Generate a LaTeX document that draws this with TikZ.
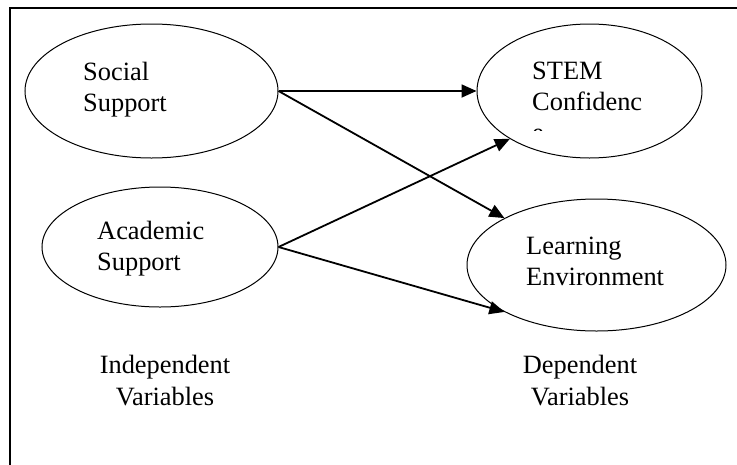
\documentclass[tikz,border=0pt]{standalone}
\usepackage{fontspec}
\setmainfont{Liberation Serif}
\usetikzlibrary{shapes.geometric,arrows.meta}
\begin{document}
\begin{tikzpicture}[x=1pt,y=-1pt,
  varell/.style={draw,ellipse,inner sep=0pt,line width=1pt},
  lbl/.style={anchor=base west,inner sep=0pt,align=left,font=\fontsize{26.4}{31}\selectfont},
  clbl/.style={anchor=base,inner sep=0pt,align=center,font=\fontsize{26.4}{31.5}\selectfont},
  conn/.style={line width=1.8pt,-{Triangle[length=15pt,width=13pt]},shorten >=0pt}]
\useasboundingbox (0,0) rectangle (737,464);
\clip (0,0) rectangle (737,464);
\draw[line width=1.5pt] (10,8) rectangle (760,490);
% ellipses
\node[varell,minimum width=253pt,minimum height=134pt] (ss) at (151.5,91) {};
\node[varell,minimum width=225pt,minimum height=134pt] (stem) at (589.5,91) {};
\node[varell,minimum width=236pt,minimum height=120pt] (as) at (160,247) {};
\node[varell,minimum width=259pt,minimum height=132pt] (le) at (596.5,265) {};
% labels (base = last line)
\node[lbl] (ssl) at (83,111) {Social\\Support};
\node[lbl] (steml) at (532,110) {STEM\\Confidenc};
\begin{scope}
\clip (520,120) rectangle (560,130.5);
\node[lbl] (stemcut) at (532,141) {e};
\end{scope}
\node[lbl] (asl) at (97,270) {Academic\\Support};
\node[lbl] (lel) at (526,285) {Learning\\Environment};
\node[clbl] (ind) at (165,405) {Independent\\Variables};
\node[clbl] (dep) at (580,405) {Dependent\\Variables};
% connectors
\draw[conn] (ss.east) -- (stem.west);
\draw[conn] (ss.east) -- (le.153);
\draw[conn] (as.east) -- (stem.211);
\draw[conn] (as.east) -- (le.207);
\end{tikzpicture}
\end{document}
